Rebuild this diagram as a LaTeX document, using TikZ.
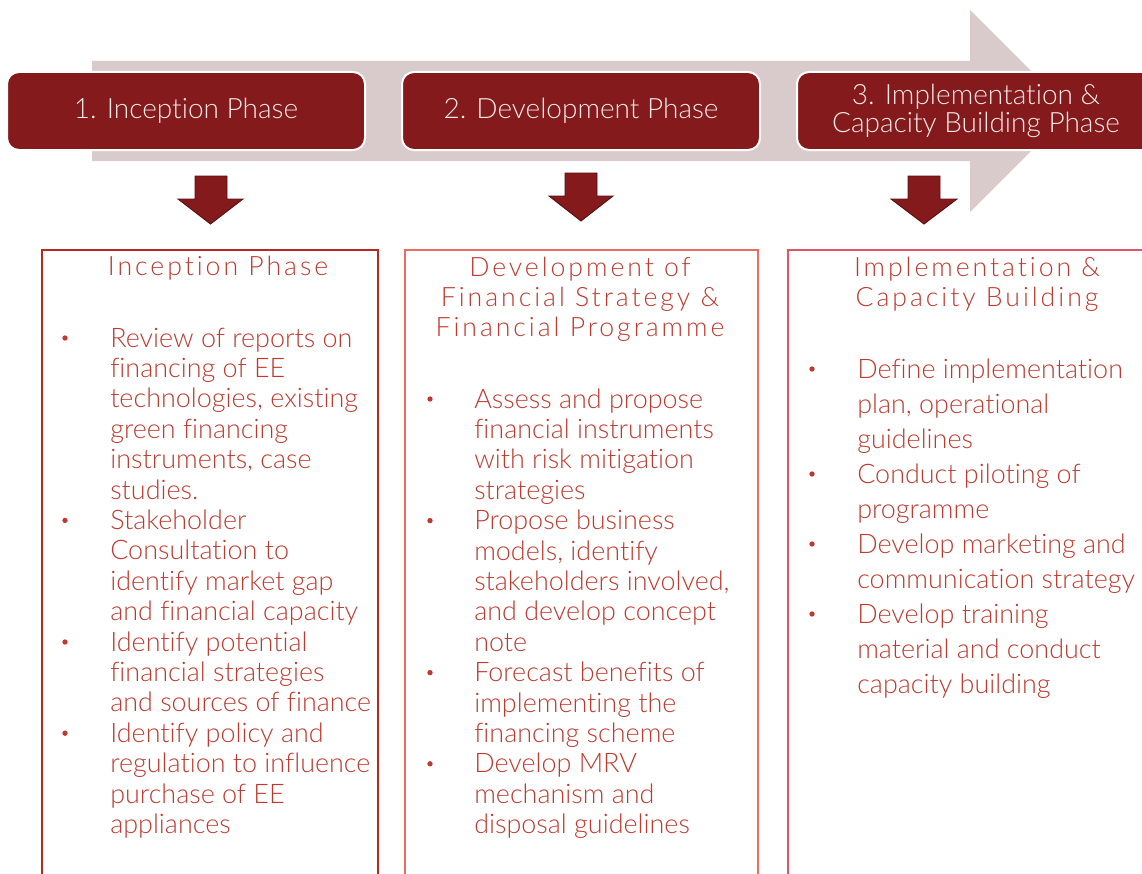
\documentclass[tikz,border=0pt]{standalone}
\usepackage{fontspec}
\setmainfont{Lato Light}[Ligatures=NoCommon]
\newfontfamily\titlefont{Lato Light}[LetterSpace=11,Ligatures=NoCommon]
\definecolor{hdr}{HTML}{841A1B}
\definecolor{hdrline}{HTML}{5C0F10}
\definecolor{bigarrow}{HTML}{D9CBCB}
\definecolor{txtred}{HTML}{BE3A2F}
\definecolor{hdrtxt}{HTML}{F3E9E9}
\definecolor{borderA}{HTML}{B8281E}
\definecolor{borderB}{HTML}{EE6B5E}
\definecolor{borderC}{HTML}{E05468}
\tikzset{
  hdrbox/.style={fill=hdr, draw=white, line width=1.5pt, rounded corners=9pt,
    minimum width=268.5pt, minimum height=58.5pt, inner sep=0pt,
    text=hdrtxt, font=\fontsize{21}{21.5}\selectfont, align=center},
  contentbox/.style={draw=#1, line width=1.5pt, anchor=north west, inner sep=0pt,
    minimum height=480pt},
  downarrow/.style={fill=hdr, draw=hdrline, line width=0.7pt, line join=miter},
  bodytxt/.style={anchor=base west, inner sep=0pt, text=txtred,
    font=\fontsize{20.2}{24}\selectfont},
  titletxt/.style={anchor=base, inner sep=0pt, text=txtred,
    font=\titlefont\fontsize{20}{24}\selectfont},
  bul/.style={fill=txtred}
}
\newcommand\linesat[5]{%
  \foreach \t [count=\i from 0] in {#4}
    \node[bodytxt] (#5\i) at (#1,{#2+\i*#3}) {\t};}
\begin{document}
\begin{tikzpicture}[x=0.75pt,y=-0.75pt]
\useasboundingbox (0,0) rectangle (1142,874);
\begin{scope}
\clip (0,0) rectangle (1142,874);
% big background arrow
\fill[bigarrow] (92,61) -- (970,61) -- (970,10) -- (1071,111) -- (970,212)
  -- (970,161) -- (92,161) -- cycle;
% header boxes
\node[hdrbox] (h1) at (186,111) {1. Inception Phase};
\node[hdrbox] (h2) at (581,111) {2. Development Phase};
\node[hdrbox] (h3) at (976,111) {3. Implementation \&\\Capacity Building Phase};
% down arrows
\draw[downarrow] (195,176) -- (227,176) -- (227,199) -- (243,199) -- (210.5,224)
  -- (178,199) -- (195,199) -- cycle;
\draw[downarrow] (565,173) -- (597,173) -- (597,196) -- (613,196) -- (581,221)
  -- (549,196) -- (565,196) -- cycle;
\draw[downarrow] (908,176) -- (940,176) -- (940,199) -- (957,199) -- (924,224)
  -- (891,199) -- (908,199) -- cycle;
% content boxes
\node[contentbox=borderA, minimum width=252pt] (c1) at (41,249) {};
\node[contentbox=borderB, minimum width=264.75pt] (c2) at (404,249) {};
\node[contentbox=borderC, minimum width=270pt] (c3) at (787,249) {};
\end{scope}
% titles
\node[titletxt] (t1) at (218,275) {Inception Phase};
\node[titletxt] (t2a) at (580,276) {Development of};
\node[titletxt] (t2b) at (580,306) {Financial Strategy \&};
\node[titletxt] (t2c) at (580,336) {Financial Programme};
\node[titletxt] (t3a) at (977,276) {Implementation \&};
\node[titletxt] (t3b) at (977,306) {Capacity Building};
% box 1 text
\linesat{110}{347}{30.4}{Review of reports on, financing of EE, {technologies, existing},
  green financing, {instruments, case}, studies., Stakeholder, Consultation to,
  identify market gap, and financial capacity, Identify potential,
  financial strategies, and sources of finance, Identify policy and,
  regulation to influence, purchase of EE, appliances}{a}
\foreach \k in {0,6,10,13} \fill[bul] (65,{347+\k*30.4-9}) circle (2pt);
% box 2 text
\linesat{474}{408}{30.4}{Assess and propose, financial instruments, with risk mitigation,
  strategies, Propose business, {models, identify}, {stakeholders involved,},
  and develop concept, note, Forecast benefits of, implementing the,
  financing scheme, Develop MRV, mechanism and, disposal guidelines}{b}
\foreach \k in {0,4,9,12} \fill[bul] (430,{408+\k*30.4-9}) circle (2pt);
% box 3 text
\linesat{857}{378}{35}{Define implementation, {plan, operational}, guidelines,
  Conduct piloting of, programme, Develop marketing and, communication strategy,
  Develop training, material and conduct, capacity building}{c}
\foreach \k in {0,3,5,7} \fill[bul] (812,{378+\k*35-9}) circle (2pt);
\end{tikzpicture}
\end{document}
